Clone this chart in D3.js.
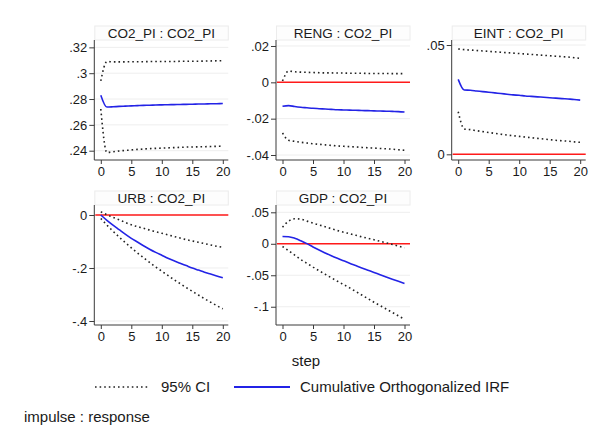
<!DOCTYPE html>
<html>
<head>
<meta charset="utf-8">
<script src="https://cdn.jsdelivr.net/npm/d3@7"></script>
<style>
  body { margin: 0; background: #fff; }
  svg { display: block; font-family: "Liberation Sans", Arial, sans-serif; }
</style>
</head>
<body>
<svg id="chart" width="598" height="435"></svg>
<script>
// ---- data ----
const steps = d3.range(0, 21)
const xTicks = [0, 5, 10, 15, 20]

const co2Irf = [.2830, .2738, .2740, .2743, .2745, .2747, .2749, .2751, .2752, .2754, .2755, .2756, .2757, .2758, .2759, .2760, .2761, .2762, .2763, .2764, .2765]
const co2Hi  = [.2940, .3090, .3088, .3088, .3088, .3089, .3089, .3089, .3090, .3090, .3090, .3091, .3091, .3092, .3092, .3093, .3093, .3094, .3095, .3096, .3097]
const co2Lo  = [.2723, .2386, .2392, .2398, .2402, .2406, .2410, .2413, .2416, .2418, .2420, .2422, .2424, .2426, .2428, .2429, .2430, .2431, .2432, .2434, .2436]
const co2Ticks = [.24, .26, .28, .3, .32]

const rengIrf = [-.0132, -.0128, -.0133, -.0137, -.0140, -.0143, -.0145, -.0147, -.0149, -.0151, -.0152, -.0153, -.0154, -.0155, -.0156, -.0157, -.0158, -.0159, -.0160, -.0161, -.0163]
const rengHi  = [.0007, .0062, .0058, .0056, .0055, .0054, .0053, .0052, .0052, .0051, .0051, .0050, .0050, .0050, .0049, .0049, .0049, .0049, .0048, .0048, .0048]
const rengLo  = [-.0279, -.0319, -.0325, -.0330, -.0334, -.0338, -.0341, -.0344, -.0347, -.0350, -.0352, -.0354, -.0356, -.0358, -.0360, -.0362, -.0364, -.0366, -.0368, -.0371, -.0374]
const rengTicks = [-.04, -.02, 0, .02]

const eintIrf = [.0343, .0294, .0293, .0290, .0287, .0284, .0281, .0278, .0275, .0272, .0270, .0267, .0265, .0263, .0261, .0259, .0257, .0255, .0253, .0251, .0248]
const eintHi  = [.0482, .0479, .0477, .0475, .0473, .0471, .0469, .0467, .0465, .0463, .0461, .0459, .0457, .0455, .0453, .0451, .0449, .0447, .0445, .0442, .0439]
const eintLo  = [.0195, .0116, .0113, .0108, .0104, .0100, .0096, .0092, .0088, .0085, .0082, .0079, .0076, .0073, .0070, .0067, .0064, .0062, .0060, .0057, .0055]
const eintTicks = [0, .05]

const urbIrf = [0, -.020, -.038, -.055, -.072, -.088, -.102, -.116, -.129, -.141, -.152, -.163, -.173, -.182, -.191, -.200, -.208, -.216, -.223, -.230, -.237]
const urbHi  = [.012, .001, -.009, -.018, -.028, -.037, -.044, -.050, -.057, -.063, -.069, -.075, -.081, -.087, -.093, -.098, -.103, -.108, -.113, -.118, -.122]
const urbLo  = [-.013, -.038, -.061, -.083, -.104, -.124, -.143, -.161, -.179, -.196, -.212, -.228, -.244, -.259, -.274, -.288, -.302, -.316, -.329, -.342, -.354]
const urbTicks = [-.4, -.2, 0]

const gdpIrf = [.0115, .0112, .0088, .0048, .0002, -.0050, -.0100, -.0146, -.0190, -.0231, -.0270, -.0309, -.0346, -.0383, -.0419, -.0455, -.0492, -.0528, -.0563, -.0597, -.0630]
const gdpHi  = [.0264, .0360, .0397, .0390, .0360, .0327, .0300, .0270, .0240, .0210, .0184, .0160, .0135, .0110, .0087, .0064, .0040, .0015, -.0010, -.0037, -.0064]
const gdpLo  = [-.0043, -.0110, -.0180, -.0250, -.0310, -.0370, -.0428, -.0484, -.0540, -.0594, -.0647, -.0700, -.0757, -.0814, -.0871, -.0928, -.0982, -.1036, -.1090, -.1145, -.1200]
const gdpTicks = [-.1, -.05, 0, .05]

const panels = [
  {title: "CO2_PI : CO2_PI", irf: co2Irf,  hi: co2Hi,  lo: co2Lo,  ticks: co2Ticks,  yDom: [.2328, .3257],  zero: false, col: 0, row: 0},
  {title: "RENG : CO2_PI",   irf: rengIrf, hi: rengHi, lo: rengLo, ticks: rengTicks, yDom: [-.04275, .0233], zero: true, col: 1, row: 0},
  {title: "EINT : CO2_PI",   irf: eintIrf, hi: eintHi, lo: eintLo, ticks: eintTicks, yDom: [-.0026, .0523], zero: true, col: 2, row: 0},
  {title: "URB : CO2_PI",    irf: urbIrf,  hi: urbHi,  lo: urbLo,  ticks: urbTicks,  yDom: [-.4151, .0377], zero: true, col: 0, row: 1},
  {title: "GDP : CO2_PI",    irf: gdpIrf,  hi: gdpHi,  lo: gdpLo,  ticks: gdpTicks,  yDom: [-.129, .0616],  zero: true, col: 1, row: 1}
]

// ---- layout ----
const colX = [94.3, 276, 451.7]
const rowTop = [40, 205]
const plotW = 134, plotH = 120, titleH = 14
const textCol = "#1a1a1a", axisCol = "#3a3a3a"

const fmt = v => String(+v.toFixed(4)).replace(/^(-?)0\./, "$1.")

const svg = d3.select("#chart")
svg.append("rect").attr("width", 598).attr("height", 435).attr("fill", "#fff")

panels.forEach(p => {
  const x0 = colX[p.col], y0 = rowTop[p.row]
  const x = d3.scaleLinear().domain([0, 20]).range([x0 + 6.5, x0 + 128.5])
  const y = d3.scaleLinear().domain(p.yDom).range([y0 + plotH, y0])
  const g = svg.append("g")

  // title box
  g.append("rect")
    .attr("x", x0 + 0.5).attr("y", y0 - titleH)
    .attr("width", plotW - 0.5).attr("height", titleH)
    .attr("fill", "#fdfdfd").attr("stroke", "#ececec")
  g.append("text")
    .attr("x", x0 + plotW / 2).attr("y", y0 - titleH / 2)
    .attr("dy", "0.36em").attr("text-anchor", "middle")
    .attr("font-size", 13.5).attr("fill", textCol)
    .text(p.title)

  // horizontal gridlines
  g.append("g").selectAll("line").data(p.ticks).join("line")
    .attr("x1", x0).attr("x2", x0 + plotW)
    .attr("y1", d => y(d)).attr("y2", d => y(d))
    .attr("stroke", "#eeeeee").attr("stroke-width", 1)

  // y axis
  const ya = g.append("g").attr("transform", `translate(${x0},0)`)
    .call(d3.axisLeft(y).tickValues(p.ticks).tickFormat(fmt).tickSize(5).tickPadding(2))
  ya.select(".domain").attr("stroke", axisCol).attr("d", `M0,${y0}V${y0 + plotH}`)
  ya.selectAll(".tick line").attr("stroke", axisCol)
  ya.selectAll("text").attr("font-size", 13).attr("fill", textCol).attr("font-family", null)

  // x axis
  const xa = g.append("g").attr("transform", `translate(0,${y0 + plotH})`)
    .call(d3.axisBottom(x).tickValues(xTicks).tickSize(4).tickPadding(3))
  xa.select(".domain").attr("stroke", axisCol).attr("d", `M${x0},0H${x0 + plotW}`)
  xa.selectAll(".tick line").attr("stroke", axisCol)
  xa.selectAll("text").attr("font-size", 13).attr("fill", textCol).attr("font-family", null)

  // zero line
  if (p.zero) {
    g.append("line")
      .attr("x1", x0 + 1).attr("x2", x0 + plotW)
      .attr("y1", y(0)).attr("y2", y(0))
      .attr("stroke", "#ff1a1a").attr("stroke-width", 1.5)
  }

  const line = arr => d3.line().curve(d3.curveMonotoneX).x((d, i) => x(steps[i])).y(d => y(d))(arr)

  ;[p.hi, p.lo].forEach(arr => {
    g.append("path").attr("d", line(arr))
      .attr("fill", "none").attr("stroke", "#222")
      .attr("stroke-width", 1.6).attr("stroke-dasharray", "1.6,3")
  })
  g.append("path").attr("d", line(p.irf))
    .attr("fill", "none").attr("stroke", "#2323e6").attr("stroke-width", 1.6)
})

// ---- x title, legend, note ----
svg.append("text").attr("x", 306).attr("y", 361).attr("dy", "0.36em")
  .attr("text-anchor", "middle").attr("font-size", 15).attr("fill", textCol).text("step")

const leg = svg.append("g")
leg.append("line").attr("x1", 95).attr("x2", 149).attr("y1", 387).attr("y2", 387)
  .attr("stroke", "#222").attr("stroke-width", 1.6).attr("stroke-dasharray", "1.6,3")
leg.append("text").attr("x", 161).attr("y", 387).attr("dy", "0.36em")
  .attr("font-size", 15).attr("fill", textCol).text("95% CI")
leg.append("line").attr("x1", 234).attr("x2", 290).attr("y1", 387).attr("y2", 387)
  .attr("stroke", "#2323e6").attr("stroke-width", 1.8)
leg.append("text").attr("x", 300).attr("y", 387).attr("dy", "0.36em")
  .attr("font-size", 15).attr("fill", textCol).text("Cumulative Orthogonalized IRF")

svg.append("text").attr("x", 24).attr("y", 417).attr("dy", "0.36em")
  .attr("font-size", 15).attr("fill", textCol).text("impulse : response")
</script>
</body>
</html>
